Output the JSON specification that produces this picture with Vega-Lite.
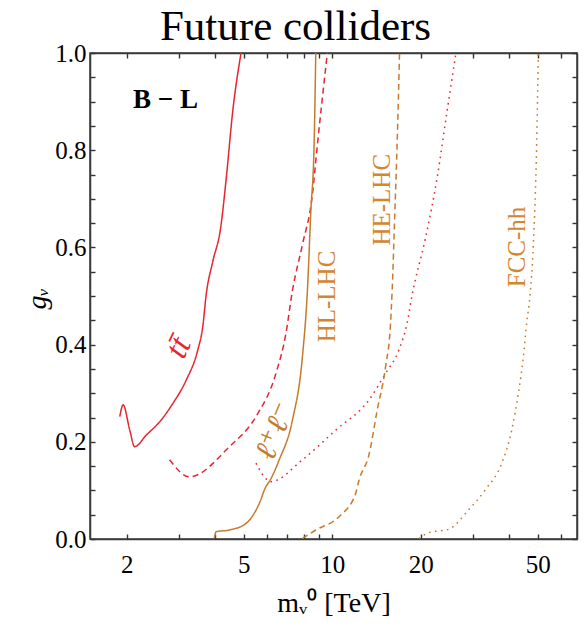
{
  "$schema": "https://vega.github.io/schema/vega-lite/v6.json",
  "width": 487,
  "height": 486,
  "autosize": "none",
  "padding": {"left": 90, "top": 53, "right": 8, "bottom": 90},
  "background": "white",
  "title": {"text": "Future colliders", "font": "Liberation Serif", "fontSize": 43, "fontWeight": "normal", "color": "black", "anchor": "middle", "dx": -38, "offset": -8},
  "config": {
    "view": {"stroke": "#3a3a3a", "strokeWidth": 1.5},
    "axis": {"grid": false, "domainColor": "#3a3a3a", "domainWidth": 1.5, "tickColor": "#333", "tickWidth": 1.4, "tickSize": -5, "labelPadding": 9, "labelFont": "Liberation Serif", "labelFontSize": 25, "labelColor": "black", "titleFont": "Liberation Serif", "titleFontSize": 28, "titleFontWeight": "normal", "titleColor": "black"}
  },
  "datasets": {
    "curves": [
      {"channel": "tt", "collider": "HL-LHC", "i": 1, "m": 1.894, "g": 0.252},
      {"channel": "tt", "collider": "HL-LHC", "i": 2, "m": 1.944, "g": 0.276},
      {"channel": "tt", "collider": "HL-LHC", "i": 3, "m": 2.048, "g": 0.224},
      {"channel": "tt", "collider": "HL-LHC", "i": 4, "m": 2.128, "g": 0.190},
      {"channel": "tt", "collider": "HL-LHC", "i": 5, "m": 2.332, "g": 0.214},
      {"channel": "tt", "collider": "HL-LHC", "i": 6, "m": 2.588, "g": 0.241},
      {"channel": "tt", "collider": "HL-LHC", "i": 7, "m": 2.871, "g": 0.279},
      {"channel": "tt", "collider": "HL-LHC", "i": 8, "m": 3.187, "g": 0.327},
      {"channel": "tt", "collider": "HL-LHC", "i": 9, "m": 3.489, "g": 0.389},
      {"channel": "tt", "collider": "HL-LHC", "i": 10, "m": 3.628, "g": 0.437},
      {"channel": "tt", "collider": "HL-LHC", "i": 11, "m": 3.725, "g": 0.502},
      {"channel": "tt", "collider": "HL-LHC", "i": 12, "m": 3.924, "g": 0.571},
      {"channel": "tt", "collider": "HL-LHC", "i": 13, "m": 4.17, "g": 0.639},
      {"channel": "tt", "collider": "HL-LHC", "i": 14, "m": 4.36, "g": 0.742},
      {"channel": "tt", "collider": "HL-LHC", "i": 15, "m": 4.585, "g": 0.879},
      {"channel": "tt", "collider": "HL-LHC", "i": 16, "m": 4.896, "g": 1.0},
      {"channel": "tt", "collider": "HE-LHC", "i": 1, "m": 2.798, "g": 0.163},
      {"channel": "tt", "collider": "HE-LHC", "i": 2, "m": 3.27, "g": 0.128},
      {"channel": "tt", "collider": "HE-LHC", "i": 3, "m": 4.469, "g": 0.190},
      {"channel": "tt", "collider": "HE-LHC", "i": 4, "m": 5.504, "g": 0.252},
      {"channel": "tt", "collider": "HE-LHC", "i": 5, "m": 6.436, "g": 0.341},
      {"channel": "tt", "collider": "HE-LHC", "i": 6, "m": 6.959, "g": 0.423},
      {"channel": "tt", "collider": "HE-LHC", "i": 7, "m": 7.325, "g": 0.512},
      {"channel": "tt", "collider": "HE-LHC", "i": 8, "m": 7.914, "g": 0.605},
      {"channel": "tt", "collider": "HE-LHC", "i": 9, "m": 8.559, "g": 0.708},
      {"channel": "tt", "collider": "HE-LHC", "i": 10, "m": 8.901, "g": 0.811},
      {"channel": "tt", "collider": "HE-LHC", "i": 11, "m": 9.24, "g": 0.903},
      {"channel": "tt", "collider": "HE-LHC", "i": 12, "m": 9.625, "g": 1.0},
      {"channel": "tt", "collider": "FCC-hh", "i": 1, "m": 5.504, "g": 0.156},
      {"channel": "tt", "collider": "FCC-hh", "i": 2, "m": 6.188, "g": 0.118},
      {"channel": "tt", "collider": "FCC-hh", "i": 3, "m": 7.918, "g": 0.163},
      {"channel": "tt", "collider": "FCC-hh", "i": 4, "m": 10.28, "g": 0.224},
      {"channel": "tt", "collider": "FCC-hh", "i": 5, "m": 13.33, "g": 0.286},
      {"channel": "tt", "collider": "FCC-hh", "i": 6, "m": 15.19, "g": 0.341},
      {"channel": "tt", "collider": "FCC-hh", "i": 7, "m": 16.85, "g": 0.389},
      {"channel": "tt", "collider": "FCC-hh", "i": 8, "m": 17.97, "g": 0.444},
      {"channel": "tt", "collider": "FCC-hh", "i": 9, "m": 18.69, "g": 0.502},
      {"channel": "tt", "collider": "FCC-hh", "i": 10, "m": 20.75, "g": 0.619},
      {"channel": "tt", "collider": "FCC-hh", "i": 11, "m": 22.72, "g": 0.742},
      {"channel": "tt", "collider": "FCC-hh", "i": 12, "m": 24.56, "g": 0.879},
      {"channel": "tt", "collider": "FCC-hh", "i": 13, "m": 26.35, "g": 1.0},
      {"channel": "ll", "collider": "HL-LHC", "i": 1, "m": 3.975, "g": 0.002},
      {"channel": "ll", "collider": "HL-LHC", "i": 2, "m": 4.028, "g": 0.015},
      {"channel": "ll", "collider": "HL-LHC", "i": 3, "m": 4.469, "g": 0.0185},
      {"channel": "ll", "collider": "HL-LHC", "i": 4, "m": 5.09, "g": 0.032},
      {"channel": "ll", "collider": "HL-LHC", "i": 5, "m": 5.647, "g": 0.073},
      {"channel": "ll", "collider": "HL-LHC", "i": 6, "m": 5.951, "g": 0.108},
      {"channel": "ll", "collider": "HL-LHC", "i": 7, "m": 6.106, "g": 0.118},
      {"channel": "ll", "collider": "HL-LHC", "i": 8, "m": 6.602, "g": 0.163},
      {"channel": "ll", "collider": "HL-LHC", "i": 9, "m": 7.325, "g": 0.245},
      {"channel": "ll", "collider": "HL-LHC", "i": 10, "m": 7.918, "g": 0.375},
      {"channel": "ll", "collider": "HL-LHC", "i": 11, "m": 8.234, "g": 0.512},
      {"channel": "ll", "collider": "HL-LHC", "i": 12, "m": 8.455, "g": 0.673},
      {"channel": "ll", "collider": "HL-LHC", "i": 13, "m": 8.676, "g": 0.811},
      {"channel": "ll", "collider": "HL-LHC", "i": 14, "m": 8.79, "g": 1.0},
      {"channel": "ll", "collider": "HE-LHC", "i": 1, "m": 7.918, "g": 0.001},
      {"channel": "ll", "collider": "HE-LHC", "i": 2, "m": 8.79, "g": 0.0185},
      {"channel": "ll", "collider": "HE-LHC", "i": 3, "m": 10.55, "g": 0.046},
      {"channel": "ll", "collider": "HE-LHC", "i": 4, "m": 12.02, "g": 0.094},
      {"channel": "ll", "collider": "HE-LHC", "i": 5, "m": 12.33, "g": 0.121},
      {"channel": "ll", "collider": "HE-LHC", "i": 6, "m": 13.33, "g": 0.173},
      {"channel": "ll", "collider": "HE-LHC", "i": 7, "m": 14.22, "g": 0.265},
      {"channel": "ll", "collider": "HE-LHC", "i": 8, "m": 15.19, "g": 0.355},
      {"channel": "ll", "collider": "HE-LHC", "i": 9, "m": 15.79, "g": 0.444},
      {"channel": "ll", "collider": "HE-LHC", "i": 10, "m": 15.99, "g": 0.512},
      {"channel": "ll", "collider": "HE-LHC", "i": 11, "m": 16.33, "g": 0.673},
      {"channel": "ll", "collider": "HE-LHC", "i": 12, "m": 16.62, "g": 0.811},
      {"channel": "ll", "collider": "HE-LHC", "i": 13, "m": 16.94, "g": 1.0},
      {"channel": "ll", "collider": "FCC-hh", "i": 1, "m": 19.69, "g": 0.001},
      {"channel": "ll", "collider": "FCC-hh", "i": 2, "m": 21.29, "g": 0.013},
      {"channel": "ll", "collider": "FCC-hh", "i": 3, "m": 24.88, "g": 0.020},
      {"channel": "ll", "collider": "FCC-hh", "i": 4, "m": 29.09, "g": 0.060},
      {"channel": "ll", "collider": "FCC-hh", "i": 5, "m": 33.14, "g": 0.101},
      {"channel": "ll", "collider": "FCC-hh", "i": 6, "m": 37.72, "g": 0.156},
      {"channel": "ll", "collider": "FCC-hh", "i": 7, "m": 40.78, "g": 0.224},
      {"channel": "ll", "collider": "FCC-hh", "i": 8, "m": 42.97, "g": 0.300},
      {"channel": "ll", "collider": "FCC-hh", "i": 9, "m": 44.69, "g": 0.375},
      {"channel": "ll", "collider": "FCC-hh", "i": 10, "m": 45.85, "g": 0.444},
      {"channel": "ll", "collider": "FCC-hh", "i": 11, "m": 47.08, "g": 0.502},
      {"channel": "ll", "collider": "FCC-hh", "i": 12, "m": 48.31, "g": 0.605},
      {"channel": "ll", "collider": "FCC-hh", "i": 13, "m": 49.57, "g": 0.811},
      {"channel": "ll", "collider": "FCC-hh", "i": 14, "m": 50.23, "g": 1.0}
    ]
  },
  "layer": [
    {
      "data": {"name": "curves"},
      "mark": {"type": "line", "strokeWidth": 1.5, "clip": true, "interpolate": "monotone"},
      "encoding": {
        "x": {"field": "m", "type": "quantitative", "scale": {"type": "log", "domain": [1.5, 68], "nice": false},
              "axis": {"orient": "bottom", "values": [2,3,4,5,6,7,8,9,10,20,30,40,50,60], "labelExpr": "indexof([2,5,10,20,50], datum.value) >= 0 ? datum.label : ''", "labelPadding": 18, "title": "mᵥ⁰ [TeV]", "titlePadding": 12}},
        "y": {"field": "g", "type": "quantitative", "scale": {"domain": [0, 1], "nice": false},
              "axis": {"orient": "left", "values": [0,0.05,0.1,0.15,0.2,0.25,0.3,0.35,0.4,0.45,0.5,0.55,0.6,0.65,0.7,0.75,0.8,0.85,0.9,0.95,1.0], "labelExpr": "round(datum.value*20) % 4 == 0 ? format(datum.value, '.1f') : ''", "title": "gᵥ", "titleFontStyle": "italic", "titleX": -53, "titleY": 245, "titleAlign": "center", "titleBaseline": "middle", "titleAngle": -90}},
        "color": {"field": "channel", "type": "nominal", "scale": {"domain": ["tt", "ll"], "range": ["#e6252f", "#c67a2c"]}, "legend": null},
        "strokeDash": {"field": "collider", "type": "nominal", "scale": {"domain": ["HL-LHC", "HE-LHC", "FCC-hh"], "range": [[1, 0], [6, 4], [1.6, 4.4]]}, "legend": null},
        "detail": {"field": "collider"},
        "order": {"field": "i", "type": "quantitative"}
      }
    },
    {
      "data": {"name": "curves"},
      "mark": {"type": "line", "strokeOpacity": 0},
      "encoding": {
        "x": {"field": "m", "type": "quantitative", "axis": {"orient": "top", "values": [2,3,4,5,6,7,8,9,10,20,30,40,50,60], "labels": false, "title": null}},
        "y": {"field": "g", "type": "quantitative", "axis": {"orient": "right", "values": [0,0.05,0.1,0.15,0.2,0.25,0.3,0.35,0.4,0.45,0.5,0.55,0.6,0.65,0.7,0.75,0.8,0.85,0.9,0.95,1.0], "labels": false, "title": null}},
        "detail": {"field": "channel"},
        "order": {"field": "i", "type": "quantitative"}
      }
    },
    {
      "data": {"values": [{"m": 2.71, "g": 0.903, "label": "B − L"}]},
      "mark": {"type": "text", "font": "Liberation Serif", "fontSize": 27, "fontWeight": "bold", "color": "black"},
      "encoding": {"x": {"field": "m", "type": "quantitative", "axis": null}, "y": {"field": "g", "type": "quantitative", "axis": null}, "text": {"field": "label"}}
    },
    {
      "data": {"values": [{"m": 3.0, "g": 0.394, "label": "tt̄"}]},
      "mark": {"type": "text", "font": "Liberation Serif", "fontSize": 33, "fontStyle": "italic", "color": "#e6252f", "angle": -64},
      "encoding": {"x": {"field": "m", "type": "quantitative", "axis": null}, "y": {"field": "g", "type": "quantitative", "axis": null}, "text": {"field": "label"}}
    },
    {
      "data": {"values": [{"m": 6.42, "g": 0.222, "label": "ℓ⁺ℓ⁻"}]},
      "mark": {"type": "text", "font": "DejaVu Serif", "fontSize": 31, "fontStyle": "italic", "color": "#c67a2c", "angle": -68},
      "encoding": {"x": {"field": "m", "type": "quantitative", "axis": null}, "y": {"field": "g", "type": "quantitative", "axis": null}, "text": {"field": "label"}}
    },
    {
      "data": {"values": [{"m": 9.63, "g": 0.499, "label": "HL-LHC"}, {"m": 14.79, "g": 0.698, "label": "HE-LHC"}, {"m": 42.42, "g": 0.601, "label": "FCC-hh"}]},
      "mark": {"type": "text", "font": "Liberation Serif", "fontSize": 25, "color": "#d4862f", "angle": -90},
      "encoding": {"x": {"field": "m", "type": "quantitative", "axis": null}, "y": {"field": "g", "type": "quantitative", "axis": null}, "text": {"field": "label"}}
    }
  ],
  "resolve": {"axis": {"x": "independent", "y": "independent"}}
}
